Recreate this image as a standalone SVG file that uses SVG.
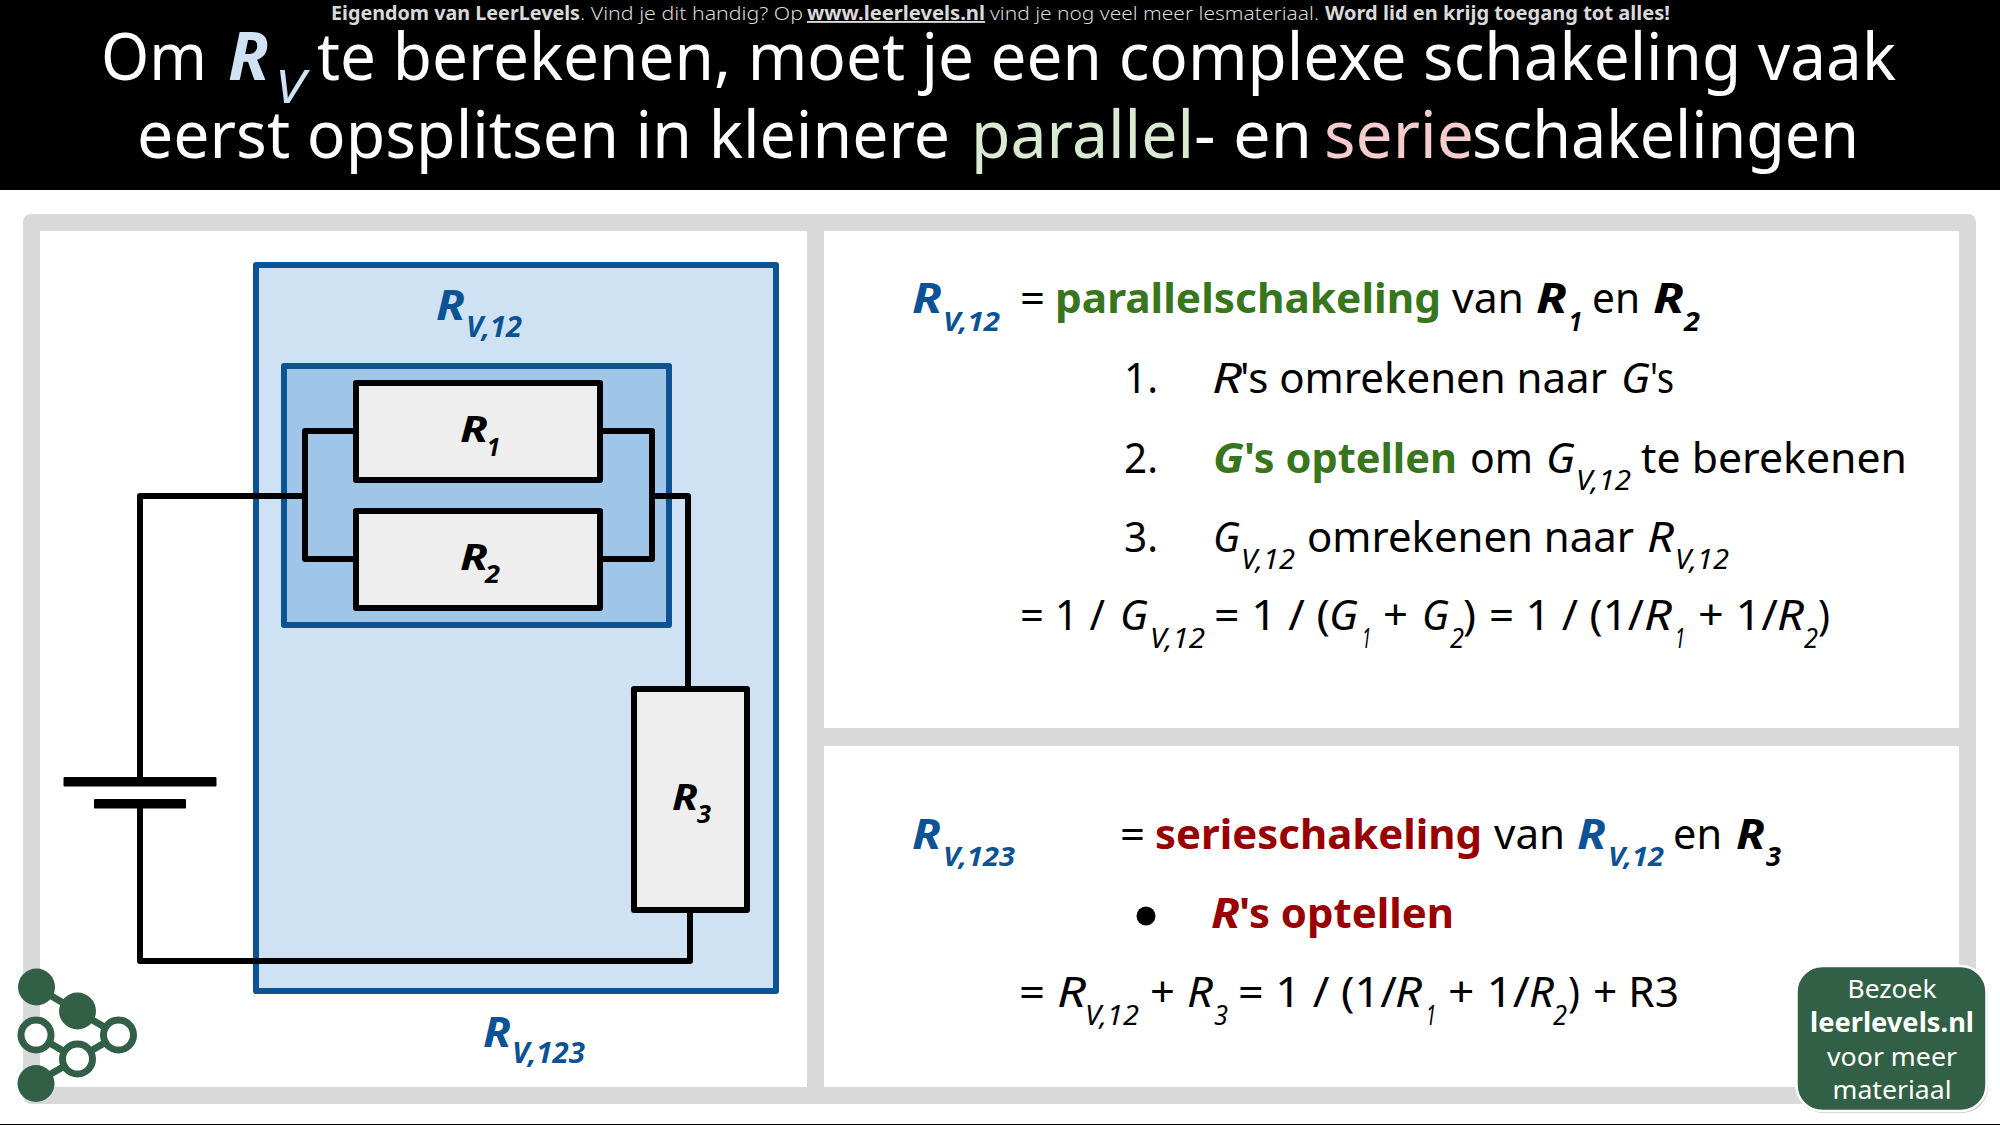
<svg xmlns="http://www.w3.org/2000/svg" width="2000" height="1125" viewBox="0 0 2000 1125">
<style>
text{font-family:"Noto Sans","Open Sans","DejaVu Sans",sans-serif;font-weight:300;fill:#000;white-space:pre}
.t{font-size:66px;fill:#fff;font-weight:400}
.top{font-size:19px;fill:#d9d9d9;font-weight:300}
.bl{fill:#0b5394}
.gr{fill:#38761d}
.re{fill:#990000}
.n{font-size:41px;font-weight:400}
.s{font-size:27px;font-weight:400;font-style:italic}
.c{font-size:36px;font-weight:700;font-style:italic}
.cs{font-size:25px;font-weight:700;font-style:italic}
.B{font-weight:700}
.I{font-style:italic}
.box{stroke:#0b5394;stroke-width:6;stroke-linejoin:round}
.res{fill:#eeeeee;stroke:#000;stroke-width:6;stroke-linejoin:round}
.wire{fill:none;stroke:#000;stroke-width:6;stroke-linejoin:round}
.b{font-size:26px;fill:#fff;text-anchor:middle;font-weight:400}
</style>
<rect width="2000" height="1125" fill="#fff"/>
<g id="header">
<rect width="2000" height="190" fill="#000"/>
<text class="top B" x="331" y="20" textLength="249" lengthAdjust="spacingAndGlyphs">Eigendom van LeerLevels</text>
<text class="top" x="580" y="20" textLength="223" lengthAdjust="spacingAndGlyphs">. Vind je dit handig? Op</text>
<text class="top B" x="807" y="20" textLength="178" lengthAdjust="spacingAndGlyphs" text-decoration="underline">www.leerlevels.nl</text>
<text class="top" x="990" y="20" textLength="329" lengthAdjust="spacingAndGlyphs">vind je nog veel meer lesmateriaal.</text>
<text class="top B" x="1325" y="20" textLength="345" lengthAdjust="spacingAndGlyphs">Word lid en krijg toegang tot alles!</text>
<text class="t" x="101" y="80" textLength="106" lengthAdjust="spacingAndGlyphs">Om</text>
<text class="t B I" x="228" y="80" textLength="41" lengthAdjust="spacingAndGlyphs" style="fill:#cfe2f3">R</text>
<text class="t I" x="275" y="103" textLength="30" lengthAdjust="spacingAndGlyphs" style="fill:#cfe2f3;font-size:46px;font-weight:400">V</text>
<text class="t" x="317" y="80" textLength="1579" lengthAdjust="spacingAndGlyphs">te berekenen, moet je een complexe schakeling vaak</text>
<text class="t" x="137" y="158" textLength="813" lengthAdjust="spacingAndGlyphs">eerst opsplitsen in kleinere</text>
<text class="t" x="971" y="158" textLength="223" lengthAdjust="spacingAndGlyphs" style="fill:#d9ead3">parallel</text>
<text class="t" x="1194" y="158" textLength="118" lengthAdjust="spacingAndGlyphs">- en</text>
<text class="t" x="1324" y="158" textLength="150" lengthAdjust="spacingAndGlyphs" style="fill:#f4cccc">serie</text>
<text class="t" x="1472" y="158" textLength="387" lengthAdjust="spacingAndGlyphs">schakelingen</text>
</g>
<g id="frame">
<rect x="23" y="214" width="1953" height="890" rx="8" fill="#d9d9d9"/>
<rect x="40" y="231" width="767" height="856" fill="#fff"/>
<rect x="824" y="231" width="1135" height="497" fill="#fff"/>
<rect x="824" y="746" width="1135" height="341" fill="#fff"/>
<rect x="0" y="1124" width="2000" height="1" fill="#000"/>
</g>
<g id="box-rv123">
<rect class="box" x="256" y="265" width="520" height="726" fill="#cfe2f3"/>
<text class="bl B I" x="436" y="320" textLength="29" lengthAdjust="spacingAndGlyphs" style="font-size:42px">R</text>
<text class="bl B I" x="466" y="337" textLength="56" lengthAdjust="spacingAndGlyphs" style="font-size:28px">V,12</text>
<text class="bl B I" x="483" y="1047" textLength="28" lengthAdjust="spacingAndGlyphs" style="font-size:42px">R</text>
<text class="bl B I" x="512" y="1063" textLength="73" lengthAdjust="spacingAndGlyphs" style="font-size:28px">V,123</text>
</g>
<g id="box-rv12">
<rect class="box" x="284" y="366" width="385" height="259" fill="#9fc5e8"/>
</g>
<g id="connectors">
<path class="wire" d="M356 431H305V559H356"/>
<path class="wire" d="M600 431H652V559H600"/>
<path class="wire" d="M305 496H140V782"/>
<path class="wire" d="M652 496H688V690"/>
<path class="wire" d="M140 803V961H690V910"/>
</g>
<g id="battery">
<rect x="63.500" y="777" width="153" height="9.500" rx="1"/>
<rect x="94" y="799" width="92" height="9.500" rx="1"/>
</g>
<g id="r1">
<rect class="res" x="356" y="383" width="244" height="97"/>
<text class="c" x="460" y="442" textLength="28" lengthAdjust="spacingAndGlyphs">R</text>
<text class="cs" x="487" y="456" textLength="13" lengthAdjust="spacingAndGlyphs">1</text>
</g>
<g id="r2">
<rect class="res" x="356" y="511" width="244" height="97"/>
<text class="c" x="460" y="570" textLength="28" lengthAdjust="spacingAndGlyphs">R</text>
<text class="cs" x="485" y="583" textLength="15" lengthAdjust="spacingAndGlyphs">2</text>
</g>
<g id="r3">
<rect class="res" x="634" y="689" width="113" height="221"/>
<text class="c" x="672" y="810" textLength="26" lengthAdjust="spacingAndGlyphs">R</text>
<text class="cs" x="697" y="823" textLength="14" lengthAdjust="spacingAndGlyphs">3</text>
</g>
<g id="panel-parallel">
<text class="n bl B I" x="912" y="313" textLength="30" lengthAdjust="spacingAndGlyphs">R</text>
<text class="s bl B" x="943" y="331" textLength="57" lengthAdjust="spacingAndGlyphs">V,12</text>
<text class="n" x="1020" y="313" textLength="25" lengthAdjust="spacingAndGlyphs">=</text>
<text class="n gr B" x="1055" y="313" textLength="386" lengthAdjust="spacingAndGlyphs">parallelschakeling</text>
<text class="n" x="1452" y="313" textLength="72" lengthAdjust="spacingAndGlyphs">van</text>
<text class="n B I" x="1536" y="313" textLength="31" lengthAdjust="spacingAndGlyphs">R</text>
<text class="s B" x="1569" y="331" textLength="13" lengthAdjust="spacingAndGlyphs">1</text>
<text class="n" x="1592" y="313" textLength="48" lengthAdjust="spacingAndGlyphs">en</text>
<text class="n B I" x="1653" y="313" textLength="31" lengthAdjust="spacingAndGlyphs">R</text>
<text class="s B" x="1684" y="331" textLength="16" lengthAdjust="spacingAndGlyphs">2</text>

<text class="n" x="1124" y="393" textLength="34" lengthAdjust="spacingAndGlyphs">1.</text>
<text class="n I" x="1212" y="393" textLength="30" lengthAdjust="spacingAndGlyphs">R</text>
<text class="n" x="1240" y="393" textLength="367" lengthAdjust="spacingAndGlyphs">'s omrekenen naar</text>
<text class="n I" x="1621" y="393" textLength="29" lengthAdjust="spacingAndGlyphs">G</text>
<text class="n" x="1650" y="393" textLength="24" lengthAdjust="spacingAndGlyphs">'s</text>

<text class="n" x="1124" y="473" textLength="34" lengthAdjust="spacingAndGlyphs">2.</text>
<text class="n gr B I" x="1213" y="473" textLength="31" lengthAdjust="spacingAndGlyphs">G</text>
<text class="n gr B" x="1244" y="473" textLength="213" lengthAdjust="spacingAndGlyphs">'s optellen</text>
<text class="n" x="1470" y="473" textLength="63" lengthAdjust="spacingAndGlyphs">om</text>
<text class="n I" x="1546" y="473" textLength="29" lengthAdjust="spacingAndGlyphs">G</text>
<text class="s" x="1576" y="490" textLength="55" lengthAdjust="spacingAndGlyphs">V,12</text>
<text class="n" x="1641" y="473" textLength="266" lengthAdjust="spacingAndGlyphs">te berekenen</text>

<text class="n" x="1124" y="552" textLength="34" lengthAdjust="spacingAndGlyphs">3.</text>
<text class="n I" x="1213" y="552" textLength="27" lengthAdjust="spacingAndGlyphs">G</text>
<text class="s" x="1241" y="569" textLength="54" lengthAdjust="spacingAndGlyphs">V,12</text>
<text class="n" x="1307" y="552" textLength="327" lengthAdjust="spacingAndGlyphs">omrekenen naar</text>
<text class="n I" x="1647" y="552" textLength="27" lengthAdjust="spacingAndGlyphs">R</text>
<text class="s" x="1675" y="569" textLength="54" lengthAdjust="spacingAndGlyphs">V,12</text>

<text class="n" x="1020" y="630" textLength="85" lengthAdjust="spacingAndGlyphs">= 1 /</text>
<text class="n I" x="1120" y="630" textLength="28" lengthAdjust="spacingAndGlyphs">G</text>
<text class="s" x="1150" y="648" textLength="55" lengthAdjust="spacingAndGlyphs">V,12</text>
<text class="n" x="1214" y="630" textLength="116" lengthAdjust="spacingAndGlyphs">= 1 / (</text>
<text class="n I" x="1329" y="630" textLength="29" lengthAdjust="spacingAndGlyphs">G</text>
<text class="s" x="1362" y="648" textLength="9" lengthAdjust="spacingAndGlyphs">1</text>
<text class="n" x="1383" y="630" textLength="25" lengthAdjust="spacingAndGlyphs">+</text>
<text class="n I" x="1422" y="630" textLength="27" lengthAdjust="spacingAndGlyphs">G</text>
<text class="s" x="1450" y="648" textLength="14" lengthAdjust="spacingAndGlyphs">2</text>
<text class="n" x="1463" y="630" textLength="13" lengthAdjust="spacingAndGlyphs">)</text>
<text class="n" x="1489" y="630" textLength="155" lengthAdjust="spacingAndGlyphs">= 1 / (1/</text>
<text class="n I" x="1644" y="630" textLength="28" lengthAdjust="spacingAndGlyphs">R</text>
<text class="s" x="1675" y="648" textLength="10" lengthAdjust="spacingAndGlyphs">1</text>
<text class="n" x="1698" y="630" textLength="80" lengthAdjust="spacingAndGlyphs">+ 1/</text>
<text class="n I" x="1777" y="630" textLength="27" lengthAdjust="spacingAndGlyphs">R</text>
<text class="s" x="1804" y="648" textLength="14" lengthAdjust="spacingAndGlyphs">2</text>
<text class="n" x="1818" y="630" textLength="12" lengthAdjust="spacingAndGlyphs">)</text>
</g>
<g id="panel-serie">
<text class="n bl B I" x="912" y="849" textLength="29" lengthAdjust="spacingAndGlyphs">R</text>
<text class="s bl B" x="943" y="866" textLength="72" lengthAdjust="spacingAndGlyphs">V,123</text>
<text class="n" x="1120" y="849" textLength="25" lengthAdjust="spacingAndGlyphs">=</text>
<text class="n re B" x="1155" y="849" textLength="327" lengthAdjust="spacingAndGlyphs">serieschakeling</text>
<text class="n" x="1494" y="849" textLength="71" lengthAdjust="spacingAndGlyphs">van</text>
<text class="n bl B I" x="1577" y="849" textLength="29" lengthAdjust="spacingAndGlyphs">R</text>
<text class="s bl B" x="1608" y="866" textLength="56" lengthAdjust="spacingAndGlyphs">V,12</text>
<text class="n" x="1673" y="849" textLength="49" lengthAdjust="spacingAndGlyphs">en</text>
<text class="n B I" x="1736" y="849" textLength="29" lengthAdjust="spacingAndGlyphs">R</text>
<text class="s B" x="1766" y="866" textLength="15" lengthAdjust="spacingAndGlyphs">3</text>
<circle cx="1146" cy="916" r="9.500"/>
<text class="n re B I" x="1211" y="928" textLength="29" lengthAdjust="spacingAndGlyphs">R</text>
<text class="n re B" x="1239" y="928" textLength="215" lengthAdjust="spacingAndGlyphs">'s optellen</text>
<text class="n" x="1019" y="1007" textLength="26" lengthAdjust="spacingAndGlyphs">=</text>
<text class="n I" x="1057" y="1007" textLength="29" lengthAdjust="spacingAndGlyphs">R</text>
<text class="s" x="1085" y="1025" textLength="54" lengthAdjust="spacingAndGlyphs">V,12</text>
<text class="n" x="1150" y="1007" textLength="25" lengthAdjust="spacingAndGlyphs">+</text>
<text class="n I" x="1187" y="1007" textLength="26" lengthAdjust="spacingAndGlyphs">R</text>
<text class="s" x="1214" y="1025" textLength="14" lengthAdjust="spacingAndGlyphs">3</text>
<text class="n" x="1238" y="1007" textLength="159" lengthAdjust="spacingAndGlyphs">= 1 / (1/</text>
<text class="n I" x="1395" y="1007" textLength="27" lengthAdjust="spacingAndGlyphs">R</text>
<text class="s" x="1426" y="1025" textLength="10" lengthAdjust="spacingAndGlyphs">1</text>
<text class="n" x="1448" y="1007" textLength="82" lengthAdjust="spacingAndGlyphs">+ 1/</text>
<text class="n I" x="1529" y="1007" textLength="25" lengthAdjust="spacingAndGlyphs">R</text>
<text class="s" x="1553" y="1025" textLength="14" lengthAdjust="spacingAndGlyphs">2</text>
<text class="n" x="1568" y="1007" textLength="12" lengthAdjust="spacingAndGlyphs">)</text>
<text class="n" x="1593" y="1007" textLength="86" lengthAdjust="spacingAndGlyphs">+ R3</text>
</g>
<g id="logo" fill="#fff" stroke="#326046" stroke-width="7">
<path d="M36 987L77 1011L118 1035L77 1059L36 1035M77 1059L35 1083" fill="none"/>
<circle cx="36.500" cy="987" r="18.500" fill="#326046" stroke="none"/>
<circle cx="77.500" cy="1011" r="18.500" fill="#326046" stroke="none"/>
<circle cx="36" cy="1035" r="15"/>
<circle cx="77.500" cy="1059" r="15"/>
<circle cx="118.500" cy="1035" r="15"/>
<circle cx="36" cy="1083.500" r="18.500" fill="#326046" stroke="none"/>
</g>
<g id="badge">
<rect x="1797" y="968" width="191" height="145" rx="26" fill="#000" opacity=".2"/>
<rect x="1796.500" y="966" width="190" height="145" rx="26" fill="#326046" stroke="#fff" stroke-width="2.500"/>
<text class="b" x="1892" y="998" textLength="89" lengthAdjust="spacingAndGlyphs">Bezoek</text>
<text class="b" x="1892" y="1032" textLength="164" lengthAdjust="spacingAndGlyphs" style="font-weight:700">leerlevels.nl</text>
<text class="b" x="1892" y="1066" textLength="130" lengthAdjust="spacingAndGlyphs">voor meer</text>
<text class="b" x="1892" y="1099" textLength="119" lengthAdjust="spacingAndGlyphs">materiaal</text>
</g>
</svg>
